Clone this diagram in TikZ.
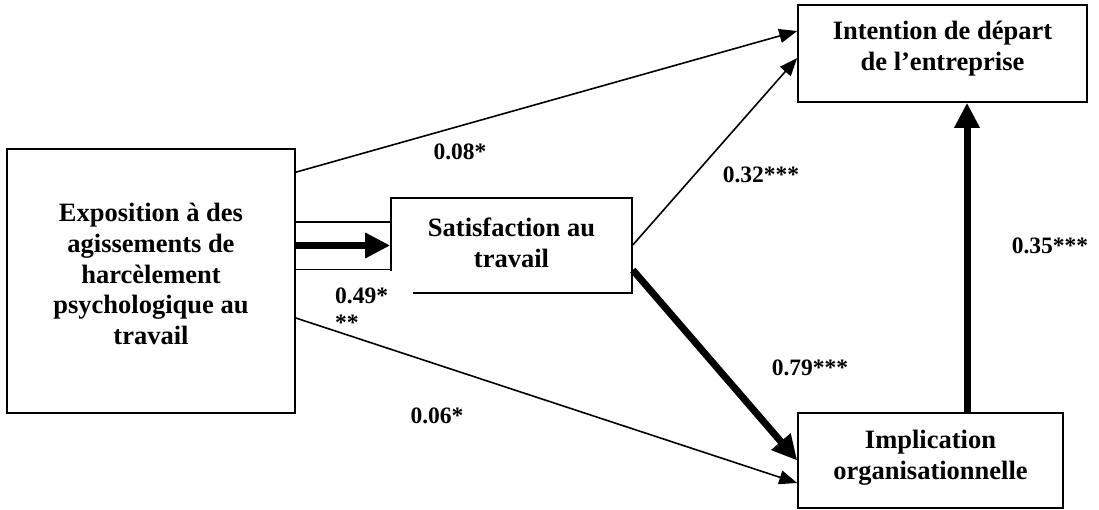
\documentclass[tikz,border=0pt]{standalone}
\usepackage{fontspec}
\setmainfont{Liberation Serif}
\usetikzlibrary{arrows.meta}
\begin{document}
\begin{tikzpicture}[x=1pt,y=-1pt,
  box/.style={draw, line width=1.6pt, inner sep=0pt},
  boxtext/.style={font=\fontsize{26.5}{30.8}\selectfont\bfseries, align=center, inner sep=0pt},
  lab/.style={font=\fontsize{23.5}{27}\selectfont\bfseries, inner sep=0pt},
  thinarrow/.style={line width=1.6pt, -{Triangle[length=18pt,width=14pt]}},
  thickarrow/.style={line width=7pt, -{Triangle[length=25pt,width=24pt]}},
  plainline/.style={line width=1.6pt}]
\useasboundingbox (0,0) rectangle (1099,510);
% boxes
\node[box, minimum width=288pt, minimum height=264pt] (exp) at (151,281) {};
\node[boxtext] (expT) at (151,274) {Exposition à des\\agissements de\\harcèlement\\psychologique au\\travail};
\node[box, minimum width=241pt, minimum height=95pt] (sat) at (511.5,245.5) {};
\node[boxtext] (satT) at (511.5,243) {Satisfaction au\\travail};
\node[box, minimum width=289pt, minimum height=97pt] (int) at (942.5,53.5) {};
\node[boxtext] (intT) at (942.5,49) {Intention de départ\\de l’entreprise};
\node[box, minimum width=265pt, minimum height=95pt] (imp) at (930.5,460.5) {};
\node[boxtext] (impT) at (930.5,458) {Implication\\organisationnelle};
% labels
\node[lab, fill=white, anchor=north west, text width=71pt, inner xsep=7pt, inner ysep=0pt, align=left] (l49) at (328,271) {\rule{0pt}{32pt}0.49*\\{}**};
\node[lab] (l08) at (460,152) {0.08*};
\node[lab] (l32) at (761,175) {0.32***};
\node[lab] (l35) at (1050,246) {0.35***};
\node[lab] (l79) at (810,368) {0.79***};
\node[lab] (l06) at (437,416) {0.06*};
% connectors
\coordinate (bt) at ([yshift=23.5pt]sat.west);
\coordinate (bb) at ([yshift=-24pt]sat.west);
\draw[plainline] (exp.east |- bt) -- (bt);
\draw[plainline] (exp.east |- bb) -- (bb);
\draw[thickarrow] (exp.east |- sat.west) -- (sat.west);
\draw[thinarrow] ([yshift=-24pt]exp.north east) -- ([yshift=22.5pt]int.west);
\draw[thinarrow] ([yshift=0.5pt]sat.east) -- ([yshift=-4.5pt]int.west);
\draw[thickarrow] ([yshift=-24.5pt]sat.east) -- (imp.west);
\draw[thinarrow] ([yshift=-37pt]exp.east) -- ([yshift=-22.5pt]imp.west);
\draw[thickarrow] ([xshift=36.5pt]imp.north) -- ([xshift=24.5pt]int.south);
\end{tikzpicture}
\end{document}
